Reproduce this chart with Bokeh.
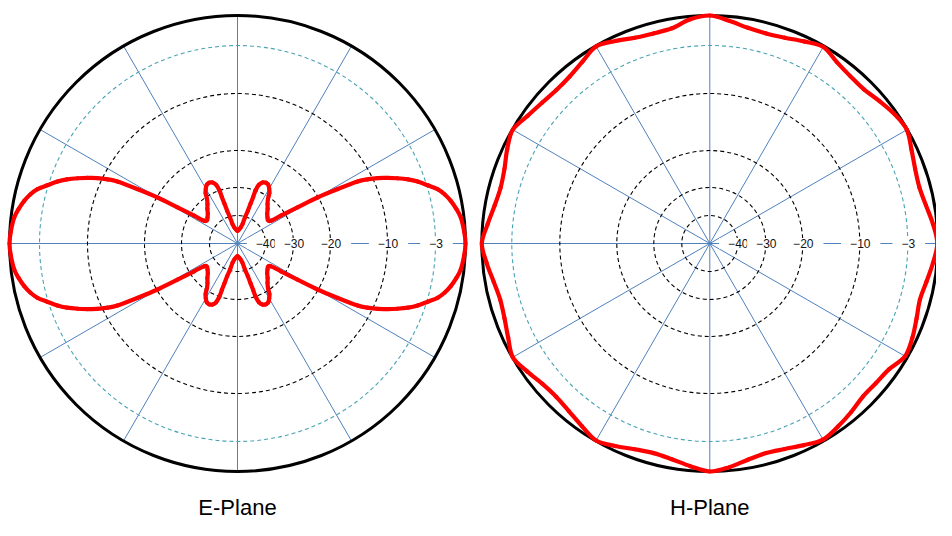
import numpy as np
from bokeh.plotting import figure
from bokeh.models import Range1d, Label
from bokeh.layouts import row
from bokeh.embed import file_html
from bokeh.resources import INLINE

# ---- radial scale (dB -> radius units) and grid ----
SCALE_DB = [-50, -40, -30, -20, -10, -3, 0]
SCALE_R = [0, 28, 56, 93, 150, 198, 228]
RING_DB = [-40, -30, -20, -10, -3]
RING_LABELS = ["\u221240", "\u221230", "\u221220", "\u221210", "\u22123"]
SPOKE_DEG = [0, 30, 60, 90, 120, 150, 180, 210, 240, 270, 300, 330]

# ---- E-Plane pattern, first quadrant (pattern is symmetric about both axes) ----
E_THETA = [0, 3, 6.6, 9, 11.3, 13.3, 15.2, 17, 19, 20.6, 22.2, 23.6, 25, 26.3, 27.3,
           28.5, 29.9, 31, 32.6, 34.3, 37.5, 41, 45, 49, 52.7, 55.5, 57.7, 60, 62.4,
           65, 67.7, 70, 71.2, 71.4, 71.8, 72.5, 74, 75.5, 79, 84, 90]
E_DB = [0.0, -0.1, -0.32, -0.65, -1.05, -1.5, -2.07, -2.9, -4.1, -5.3, -6.7, -8.0,
        -9.3, -10.9, -12.6, -16.3, -20.2, -26.2, -31.6, -35.6, -36.3, -35.8, -35.0,
        -33.6, -32.3, -30.8, -29.0, -28.0, -27.2, -27.0, -27.3, -28.3, -30.0, -32.5,
        -35.0, -37.8, -40.3, -42.9, -44.2, -45.0, -45.5]

# ---- H-Plane pattern, full circle every 5 degrees ----
H_THETA = list(range(0, 360, 5))
H_DB = [-0.05, -0.4, -0.85, -1.1, -0.95, -0.55,
        -0.05, -0.25, -0.65, -1.0, -0.95, -0.65,
        -0.1, -0.5, -0.9, -1.05, -0.9, -0.45,
        0.0, -0.3, -0.95, -1.05, -0.9, -0.45,
        -0.05, -0.6, -1.0, -1.1, -0.9, -0.55,
        -0.05, -0.45, -0.95, -1.15, -0.95, -0.5,
        0.0, -0.4, -0.85, -1.1, -0.95, -0.55,
        -0.05, -0.5, -0.95, -1.1, -0.9, -0.5,
        -0.05, -0.45, -0.9, -1.1, -0.9, -0.45,
        0.0, -0.35, -0.85, -1.1, -0.93, -0.55,
        -0.15, -0.45, -0.8, -1.15, -1.1, -0.9,
        -0.25, -0.45, -0.8, -1.05, -0.8, -0.4]

TITLES = ["E-Plane", "H-Plane"]

FIG_W, FIG_H = 468, 520


def to_r(db):
    return np.interp(np.asarray(db, dtype=float), SCALE_DB, SCALE_R)


def full_e_pattern(theta_q, db_q):
    t = np.asarray(theta_q, dtype=float)
    d = np.asarray(db_q, dtype=float)
    th = np.concatenate([t, 180 - t[::-1][1:], 180 + t[1:], 360 - t[::-1][1:-1]])
    db = np.concatenate([d, d[::-1][1:], d[1:], d[::-1][1:-1]])
    return th, db


def smooth_closed(p, x, y, **kw):
    # smoothed line through the data points (Catmull-Rom rendered as cubic Beziers)
    n = len(x)
    i = np.arange(n)
    xm, ym = x[(i - 1) % n], y[(i - 1) % n]
    x1, y1 = x[(i + 1) % n], y[(i + 1) % n]
    x2, y2 = x[(i + 2) % n], y[(i + 2) % n]
    p.bezier(x0=x, y0=y, x1=x1, y1=y1,
             cx0=x + (x1 - xm) / 6.0, cy0=y + (y1 - ym) / 6.0,
             cx1=x1 - (x2 - x) / 6.0, cy1=y1 - (y2 - y) / 6.0, **kw)


def make_panel(theta_deg, db, title, cx, cy_top):
    p = figure(width=FIG_W, height=FIG_H,
               x_range=Range1d(-cx, FIG_W - cx),
               y_range=Range1d(-(FIG_H - cy_top), cy_top),
               output_backend="svg", toolbar_location=None,
               x_axis_location=None, y_axis_location=None,
               min_border=0, outline_line_color=None,
               background_fill_color="white", border_fill_color="white")
    p.grid.visible = False

    r0 = float(to_r(0))
    sp = np.deg2rad(SPOKE_DEG)
    p.segment(x0=0, y0=0, x1=r0 * np.cos(sp), y1=r0 * np.sin(sp),
              line_color="#4F81BD", line_width=1)

    for d in RING_DB:
        col = "#4AA3B5" if d == -3 else "#000000"
        p.circle(x=0, y=0, radius=float(to_r(d)), fill_color=None,
                 line_color=col, line_width=1.1, line_dash="4 3")

    p.circle(x=0, y=0, radius=r0, fill_color=None, line_color="black", line_width=3)

    th = np.deg2rad(np.asarray(theta_deg, dtype=float))
    rr = to_r(db)
    smooth_closed(p, rr * np.cos(th), rr * np.sin(th),
                  line_color="#FF0000", line_width=4.2, line_cap="round")

    for d, txt in zip(RING_DB, RING_LABELS):
        p.add_layout(Label(x=float(to_r(d)) + 1, y=0, text=txt, text_align="center",
                           text_baseline="middle", text_font="Liberation Sans",
                           text_font_size="12px", text_color="#111111",
                           background_fill_color="white",
                           padding=dict(left=9, right=10, top=1, bottom=1)))

    p.add_layout(Label(x=0, y=-264, text=title, text_align="center",
                       text_baseline="middle", text_font="Liberation Sans",
                       text_font_size="22px", text_color="#000000"))
    return p


e_th, e_db = full_e_pattern(E_THETA, E_DB)
p1 = make_panel(e_th, e_db, TITLES[0], cx=237, cy_top=243)
p2 = make_panel(H_THETA, H_DB, TITLES[1], cx=709.3 - FIG_W, cy_top=243)

layout = row(p1, p2)
open("out.html", "w").write(file_html(layout, INLINE))
